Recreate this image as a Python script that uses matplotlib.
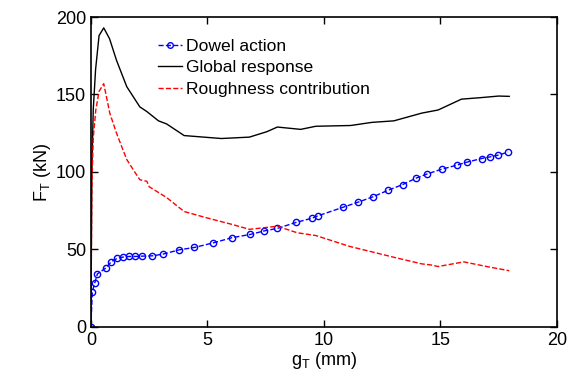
import matplotlib
matplotlib.use('Agg')
import matplotlib.pyplot as plt

plt.rcParams['font.family'] = ['Liberation Sans', 'DejaVu Sans']

# Dowel action (blue, circles)
dowel_x = [0.0, 0.06, 0.17, 0.28, 0.64, 0.88, 1.12, 1.38, 1.64, 1.91, 2.21, 2.64,
           3.09, 3.8, 4.44, 5.26, 6.05, 6.84, 7.44, 8.0, 8.81, 9.47, 9.76, 10.81,
           11.44, 12.09, 12.75, 13.38, 13.95, 14.44, 15.06, 15.7, 16.12, 16.77,
           17.14, 17.48, 17.9]
dowel_y = [0.0, 22.8, 28.6, 34.3, 38.0, 42.2, 44.2, 45.1, 45.5, 45.5, 45.7, 45.9,
           47.0, 49.8, 51.3, 54.3, 57.6, 59.7, 62.0, 63.6, 67.5, 70.1, 71.8, 77.2,
           80.4, 83.9, 88.2, 91.9, 96.0, 98.8, 101.8, 104.4, 106.3, 108.7,
           109.8, 110.9, 112.8]

# Global response (black)
glob_x = [0.0, 0.04, 0.1, 0.2, 0.35, 0.55, 0.8, 1.1, 1.54, 2.1, 2.4, 2.9, 3.25,
          4.0, 5.6, 6.8, 7.55, 8.0, 9.0, 9.65, 11.15, 12.05, 13.0, 14.2, 14.9,
          15.9, 16.75, 17.5, 17.95]
glob_y = [0.0, 100.0, 140.0, 166.0, 188.0, 193.0, 186.0, 172.0, 155.0, 142.0,
          139.0, 133.0, 131.0, 123.5, 121.6, 122.5, 126.0, 129.0, 127.5, 129.5,
          130.0, 132.0, 133.0, 138.0, 140.0, 147.0, 148.0, 149.0, 148.8]

# Roughness contribution (red, dashed)
rough_x = [0.0, 0.04, 0.1, 0.21, 0.35, 0.55, 0.81, 1.1, 1.37, 1.54, 1.88, 2.1,
           2.4, 2.5, 3.25, 4.0, 4.95, 6.1, 6.8, 8.0, 8.85, 9.65, 11.1, 12.05,
           13.1, 14.2, 14.6, 14.9, 16.0, 17.05, 17.95]
rough_y = [0.0, 90.0, 122.0, 140.0, 152.0, 157.0, 138.0, 125.0, 114.5, 108.0,
           100.0, 95.0, 94.0, 90.5, 83.5, 74.5, 70.5, 66.0, 63.0, 65.0, 60.8,
           59.0, 52.0, 48.5, 44.6, 40.7, 40.0, 39.0, 42.0, 38.8, 36.3]

fig = plt.figure(figsize=(5.79, 3.78), dpi=100)
ax = fig.add_axes([0.157, 0.135, 0.805, 0.82])

ax.plot(dowel_x, dowel_y, 'b--', marker='o', markersize=4.5, markerfacecolor='none',
        markeredgewidth=1.0, linewidth=1.0, label='Dowel action')
ax.plot(glob_x, glob_y, 'k-', linewidth=1.0, label='Global response')
ax.plot(rough_x, rough_y, 'r--', linewidth=1.0, label='Roughness contribution')

ax.set_xlim(0, 20)
ax.set_ylim(0, 200)
ax.set_xticks([0, 5, 10, 15, 20])
ax.set_yticks([0, 50, 100, 150, 200])
ax.tick_params(direction='in', top=True, right=True, labelsize=13, length=5, width=1)
for s in ax.spines.values():
    s.set_linewidth(1.2)

ax.set_xlabel('g$_\\mathregular{T}$ (mm)', fontsize=13, labelpad=1)
ax.set_ylabel('F$_\\mathregular{T}$ (kN)', fontsize=13, labelpad=2)

leg = ax.legend(loc='upper left', bbox_to_anchor=(0.145, 0.93), frameon=False,
                fontsize=12.6, handlelength=1.35, handletextpad=0.2, labelspacing=0.35,
                borderpad=0.0, borderaxespad=0.0, markerscale=0.9)

fig.savefig('out.png', dpi=100)
